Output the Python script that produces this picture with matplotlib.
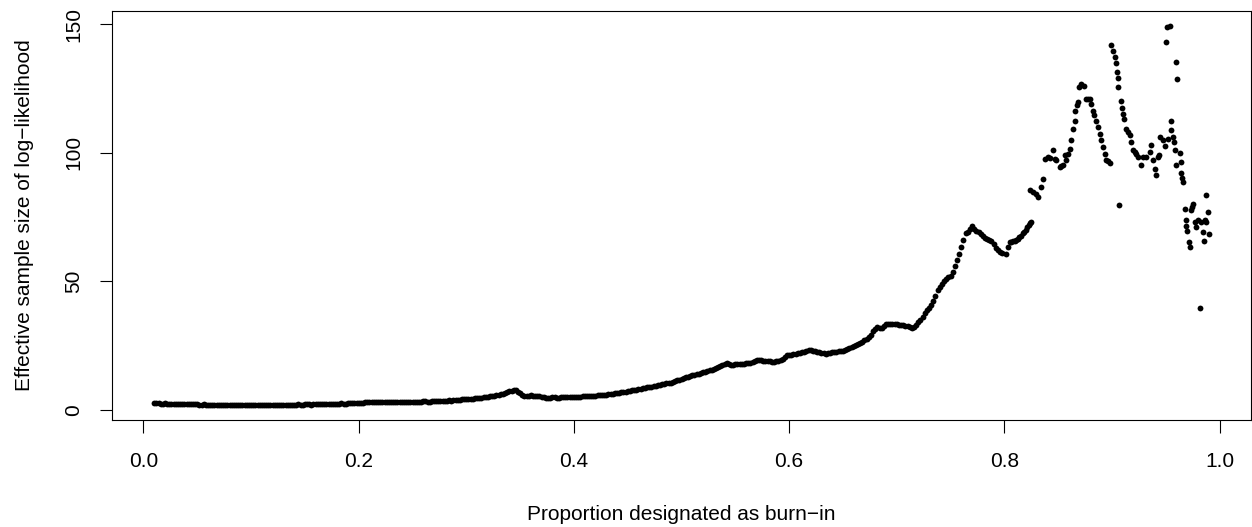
import matplotlib.pyplot as plt
import numpy as np

plt.rcParams["font.family"] = ["Liberation Sans", "DejaVu Sans"]

FONT_SIZE = 15
DOT_SIZE = 4.2

# ESS of the log-likelihood on a regular burn-in grid (0.010, 0.012, ... 0.798)
GRID_START = 0.010
GRID_STEP = 0.002
ess_grid = [
    2.6, 2.7, 2.6, 2.5, 2.5, 2.6, 2.5, 2.4, 2.4, 2.5, 2.4, 2.3, 2.4, 2.4, 2.3, 2.2, 2.3, 2.3, 2.2, 2.2,
    2.2, 2.1, 2.1, 2.2, 2.1, 2.0, 2.0, 2.1, 2.0, 1.9, 1.9, 2.0, 1.9, 1.8, 1.9, 1.9, 1.9, 2.0, 1.9, 1.8,
    1.9, 1.8, 1.9, 2.0, 1.9, 1.8, 1.9, 1.9, 2.0, 2.0, 1.9, 1.8, 1.9, 2.0, 2.0, 1.9, 2.0, 2.1, 2.0, 1.9,
    2.0, 1.9, 2.0, 2.1, 2.1, 2.0, 2.1, 2.2, 2.1, 2.1, 2.2, 2.3, 2.2, 2.1, 2.2, 2.3, 2.3, 2.2, 2.3, 2.4,
    2.3, 2.3, 2.4, 2.5, 2.4, 2.4, 2.5, 2.6, 2.5, 2.5, 2.6, 2.7, 2.6, 2.6, 2.7, 2.8, 2.8, 2.7, 2.9, 3.0,
    3.0, 2.9, 2.9, 3.0, 3.0, 3.1, 3.0, 2.9, 2.9, 3.0, 3.0, 3.1, 3.1, 3.0, 3.0, 3.1, 3.1, 3.2, 3.1, 3.1,
    3.2, 3.2, 3.1, 3.2, 3.2, 3.3, 3.3, 3.2, 3.2, 3.3, 3.4, 3.5, 3.4, 3.4, 3.5, 3.6, 3.6, 3.7, 3.5, 3.7,
    3.9, 4.0, 4.0, 4.1, 4.2, 4.1, 4.1, 4.3, 4.4, 4.5, 4.6, 4.7, 4.8, 4.9, 5.0, 5.2, 5.3, 5.4, 5.6, 5.8,
    6.0, 6.1, 6.3, 6.6, 6.9, 7.2, 7.4, 7.7, 7.6, 7.1, 6.6, 5.9, 5.4, 5.5, 5.5, 5.7, 5.6, 5.4, 5.5, 5.3,
    5.0, 4.9, 4.8, 4.8, 4.8, 4.9, 4.9, 4.8, 4.8, 4.9, 4.9, 5.0, 5.0, 5.1, 5.0, 5.1, 5.1, 5.2, 5.2, 5.3,
    5.3, 5.3, 5.4, 5.5, 5.6, 5.6, 5.7, 5.8, 5.9, 5.9, 6.0, 6.1, 6.2, 6.3, 6.4, 6.5, 6.6, 6.8, 6.9, 7.0,
    7.2, 7.4, 7.6, 7.8, 7.9, 8.1, 8.3, 8.4, 8.6, 8.8, 8.9, 9.1, 9.3, 9.5, 9.7, 9.8, 9.9, 10.2, 10.4, 10.5,
    10.6, 10.9, 11.2, 11.5, 11.8, 12.2, 12.5, 12.7, 12.9, 13.2, 13.4, 13.6, 13.8, 14.0, 14.3, 14.6, 14.9, 15.1, 15.4, 15.7,
    16.0, 16.4, 16.8, 17.2, 17.6, 18.0, 18.1, 17.7, 17.5, 17.6, 17.8, 17.8, 17.9, 18.0, 18.0, 18.1, 18.2, 18.4, 18.6, 19.0,
    19.5, 19.5, 19.3, 19.2, 19.0, 18.9, 18.9, 18.8, 18.8, 18.9, 19.0, 19.3, 19.8, 20.6, 21.3, 21.4, 21.5, 21.6, 21.9, 22.0,
    22.2, 22.4, 22.6, 23.0, 23.4, 23.2, 23.0, 22.8, 22.6, 22.5, 22.3, 22.0, 21.8, 22.0, 22.2, 22.4, 22.6, 22.7, 22.8, 22.9,
    23.1, 23.3, 23.6, 24.0, 24.4, 24.8, 25.2, 25.6, 26.1, 26.6, 27.2, 27.7, 28.3, 29.3, 30.5, 31.5, 32.3, 32.0, 31.7, 32.6,
    33.4, 33.5, 33.5, 33.4, 33.3, 33.3, 33.2, 33.1, 33.0, 32.8, 32.6, 32.3, 32.0, 32.4, 33.2, 34.0, 35.0, 36.3, 37.8, 38.8,
    39.8, 40.9, 42.5, 44.4, 46.5, 47.9, 49.0, 50.2, 51.1, 51.5, 52.0, 53.8, 55.8, 58.2, 60.8, 63.4, 66.0, 68.6, 69.2, 70.3,
    71.5, 70.3, 69.5, 69.0, 68.4, 67.6, 66.9, 66.4, 66.0, 65.5, 64.6, 63.0, 62.0, 61.6, 61.0,
]

# Beyond 0.8 the estimates jump around, so they are kept as explicit pairs
burnin_tail = [
    0.8017, 0.8034, 0.8050, 0.8065, 0.8080, 0.8095, 0.8110, 0.8125,
    0.8140, 0.8155, 0.8174, 0.8187, 0.8200, 0.8212, 0.8225, 0.8238,
    0.8251, 0.8234, 0.8265, 0.8296, 0.8312, 0.8340, 0.8358,
    0.8374, 0.8404, 0.8420, 0.8451, 0.8467, 0.8482, 0.8513, 0.8530,
    0.8544, 0.8560, 0.8575, 0.8591, 0.8614, 0.8623, 0.8638, 0.8654,
    0.8660, 0.8675, 0.8684, 0.8693, 0.8715, 0.8737, 0.8755, 0.8775,
    0.8792, 0.8807, 0.8822, 0.8835, 0.8847, 0.8869, 0.8885, 0.8900,
    0.8915, 0.8931, 0.8947, 0.8960, 0.8978, 0.8993, 0.9009, 0.9024,
    0.9033, 0.9046, 0.9055, 0.9060, 0.9070, 0.9080, 0.9092, 0.9100,
    0.9110, 0.9133, 0.9148, 0.9164, 0.9180, 0.9194, 0.9210, 0.9226,
    0.9240, 0.9270, 0.9287, 0.9320, 0.9350, 0.9360, 0.9380, 0.9396,
    0.9410, 0.9427, 0.9440, 0.9450, 0.9473, 0.9490, 0.9504, 0.9513,
    0.9520, 0.9535, 0.9545, 0.9550, 0.9566, 0.9575, 0.9588, 0.9592,
    0.9597, 0.9607, 0.9628, 0.9638, 0.9644, 0.9653, 0.9659, 0.9675,
    0.9684, 0.9690, 0.9700, 0.9712, 0.9721, 0.9730, 0.9743, 0.9755,
    0.9768, 0.9783, 0.9798, 0.9814, 0.9830, 0.9845, 0.9854, 0.9861,
    0.9870, 0.9876, 0.9890, 0.9900,
]
ess_tail = [
    60.8, 63.5, 65.3, 65.4, 65.6, 65.8, 66.0, 66.3,
    67.2, 67.8, 68.6, 69.3, 70.0, 71.0, 71.8, 72.5,
    73.1, 85.4, 84.8, 84.1, 82.8, 86.5, 89.9,
    97.7, 98.3, 98.0, 100.9, 97.7, 97.0, 94.4, 94.8,
    95.1, 99.0, 97.0, 99.6, 101.5, 104.8, 109.3, 112.5,
    116.4, 118.4, 119.6, 125.5, 126.8, 126.1, 121.0, 121.0,
    121.0, 119.0, 116.4, 114.5, 112.5, 109.9, 107.4, 104.8,
    102.2, 99.6, 97.0, 96.8, 96.0, 141.7, 139.7, 137.3,
    134.7, 131.3, 129.1, 125.4, 79.6, 120.1, 117.5, 115.1,
    113.2, 109.4, 108.0, 106.7, 104.1, 101.0, 100.2, 99.6,
    98.3, 95.1, 98.3, 98.3, 100.2, 103.2, 97.1, 93.8,
    91.2, 98.3, 99.0, 106.3, 104.8, 102.8, 143.0, 149.0,
    105.4, 149.3, 112.5, 108.7, 106.3, 104.1, 101.0, 95.1,
    135.1, 128.7, 99.8, 96.4, 92.1, 90.3, 88.6, 78.2,
    74.0, 71.4, 69.6, 65.3, 63.3, 77.6, 78.9, 79.9,
    73.1, 71.2, 73.8, 39.5, 73.1, 69.2, 65.7, 73.8,
    83.5, 73.1, 77.0, 68.3,
]

x_ticks = [0.0, 0.2, 0.4, 0.6, 0.8, 1.0]
y_ticks = [0, 50, 100, 150]


def main():
    burnin_grid = np.round(GRID_START + GRID_STEP * np.arange(len(ess_grid)), 3)
    burnin = np.concatenate([burnin_grid, burnin_tail])
    ess = np.concatenate([ess_grid, ess_tail])

    fig = plt.figure(figsize=(12.52, 5.27), dpi=100)
    ax = fig.add_axes([0.0895, 0.2021, 0.9097, 0.7775])

    ax.plot(burnin, ess, linestyle="none", marker="o", markersize=DOT_SIZE,
            markeredgewidth=0, color="black")

    # R style axis ranges: data range padded by 4% on each side
    xpad = 0.04 * (burnin.max() - burnin.min())
    ypad = 0.04 * (ess.max() - ess.min())
    ax.set_xlim(burnin.min() - xpad, burnin.max() + xpad)
    ax.set_ylim(ess.min() - ypad, ess.max() + ypad)

    for spine in ax.spines.values():
        spine.set_linewidth(0.8)

    ax.set_xticks(x_ticks)
    ax.set_xticklabels(["0.0", "0.2", "0.4", "0.6", "0.8", "1.0"])
    ax.set_yticks(y_ticks)
    ax.set_yticklabels([str(v) for v in y_ticks], rotation=90, va="center")
    ax.tick_params(axis="both", direction="out", length=9, width=0.8,
                   labelsize=FONT_SIZE)
    ax.tick_params(axis="x", pad=14)
    ax.tick_params(axis="y", pad=12)

    ax.set_xlabel("Proportion designated as burn\u2212in", fontsize=FONT_SIZE)
    ax.set_ylabel("Effective sample size of log\u2212likelihood", fontsize=FONT_SIZE)
    ax.xaxis.set_label_coords(0.5, -0.2300)
    ax.xaxis.label.set_va("center")
    ax.yaxis.set_label_coords(-0.0773, 0.5)
    ax.yaxis.label.set_va("center")

    fig.savefig("out.png", dpi=100)


if __name__ == "__main__":
    main()
